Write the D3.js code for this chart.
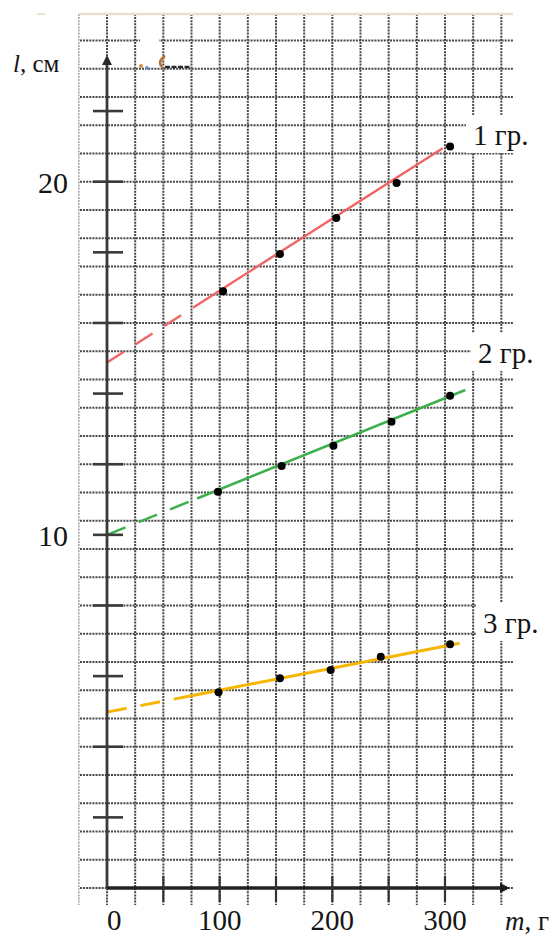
<!DOCTYPE html>
<html>
<head>
<meta charset="utf-8">
<script src="https://cdn.jsdelivr.net/npm/d3@7/dist/d3.min.js"></script>
<style>
  html, body { margin: 0; padding: 0; background: #fff; }
  svg { display: block; }
</style>
</head>
<body>
<svg id="chart" width="556" height="938"></svg>
<script>
// Spring extension l (cm) versus load mass m (g) for three groups
const groupNames = ["1 гр.", "2 гр.", "3 гр."];
const groupColors = ["#f06464", "#3cb04c", "#f5b500"];

// measured points: mass (g) and length (cm)
const massG1 = [103, 153.5, 203.5, 257, 304.5];
const lenG1  = [16.9, 17.95, 18.97, 19.96, 21.0];
const massG2 = [98.5, 155, 201, 252.5, 304.5];
const lenG2  = [11.22, 11.95, 12.52, 13.2, 13.94];
const massG3 = [99, 153.5, 198.5, 243, 304.5];
const lenG3  = [5.54, 5.94, 6.17, 6.55, 6.9];

// hand-drawn straight lines: start, end  [m, l]; dashes stop at dashUntilMass
const lineStart = [[0, 14.88], [0, 10.0], [0, 4.98]];
const lineEnd   = [[298, 20.95], [318, 14.1], [313, 6.93]];
const dashUntilMass = [78, 80, 76];

// axis ticks and labels
const xTickValues  = [50, 100, 150, 200, 250, 300];
const xLabelValues = [0, 100, 200, 300];
const yTickValues  = [2, 4, 6, 8, 10, 12, 14, 16, 18, 20, 22];
const yLabelValues = [10, 20];
const xTitle = ["m", ", г"];
const yTitle = ["l", ", см"];

// squared paper: one cell = 25 g horizontally, 0.8 cm vertically
const gridMassStep = 25;
const gridLenStep = 0.8;

const FONT = "Liberation Serif";
const INK = "#151515";

const series = groupNames.map((name, i) => ({
  name,
  color: groupColors[i],
  pts: [massG1, massG2, massG3][i].map((m, j) => ({ m, l: [lenG1, lenG2, lenG3][i][j] })),
  start: lineStart[i], end: lineEnd[i], dashTo: dashUntilMass[i]
}));

const svg = d3.select("#chart");
const x = d3.scaleLinear().domain([0, 300]).range([107, 445]);
const y = d3.scaleLinear().domain([0, 20]).range([888, 181.7]);

// ---- paper grid ----
const gridG = svg.append("g");
const vLines = d3.range(-25, 350 + 1, gridMassStep);
const hLines = d3.range(0, 30 + 1).map(k => +(k * gridLenStep).toFixed(2));
const gridTop = 14, gridBottom = 905, gridLeft = 80, gridRight = 513;

gridG.selectAll("line.v").data(vLines).join("line")
  .attr("x1", d => x(d)).attr("x2", d => x(d))
  .attr("y1", gridTop).attr("y2", gridBottom)
  .attr("stroke", (d, i) => i === 0 ? "#9a9a9a" : "#474747")
  .attr("stroke-width", (d, i) => i === 0 ? 1.4 : 2)
  .attr("stroke-dasharray", "2,1.1");

gridG.selectAll("line.h").data(hLines).join("line")
  .attr("x1", gridLeft).attr("x2", gridRight)
  .attr("y1", d => y(d)).attr("y2", d => y(d))
  .attr("stroke", "#474747").attr("stroke-width", 2)
  .attr("stroke-dasharray", "2,1.1");

// sheet edge along the top
svg.append("line").attr("x1", gridLeft - 1).attr("x2", gridRight)
  .attr("y1", gridTop).attr("y2", gridTop)
  .attr("stroke", "#e6e1cf").attr("stroke-width", 2.5);
svg.append("line").attr("x1", 37).attr("x2", 45)
  .attr("y1", gridTop).attr("y2", gridTop)
  .attr("stroke", "#e6e1cf").attr("stroke-width", 2);

// erased patch and scribble near the top
svg.append("rect").attr("x", 140).attr("y", 35).attr("width", 19).attr("height", 15).attr("fill", "#fff");
svg.append("circle").attr("cx", 141).attr("cy", 66).attr("r", 2).attr("fill", "#d98c3c");
svg.append("circle").attr("cx", 147).attr("cy", 68).attr("r", 2).attr("fill", "#6f8fd0");
svg.append("path").attr("d", "M165,56 Q157,61 162,67")
  .attr("fill", "none").attr("stroke", "#b8702e").attr("stroke-width", 2.6);
svg.append("line").attr("x1", 165).attr("x2", 190).attr("y1", 67).attr("y2", 67)
  .attr("stroke", "#2a2a2a").attr("stroke-width", 2.4).attr("stroke-dasharray", "5,1.5");

// ---- group labels (paper cleared behind them) ----
const labelPos = [[473, 145], [478, 363], [483, 633]];
const labelG = svg.append("g");
series.forEach((s, i) => {
  const t = labelG.append("text")
    .attr("x", labelPos[i][0]).attr("y", labelPos[i][1])
    .attr("font-family", FONT).attr("font-size", 29).attr("fill", INK)
    .text(s.name);
  const bb = t.node().getBBox();
  labelG.insert("rect", "text")
    .attr("x", bb.x - 7).attr("y", bb.y - 4)
    .attr("width", 556 - (bb.x - 7)).attr("height", bb.height + 6)
    .attr("fill", "#fff");
});

// ---- fitted lines: dashed near the axis, solid through the points ----
const lineG = svg.append("g");
const lineWidths = [2.4, 2.6, 3];
series.forEach((s, i) => {
  const [m0, l0] = s.start, [m1, l1] = s.end;
  const lBreak = l0 + (l1 - l0) * (s.dashTo - m0) / (m1 - m0);
  lineG.append("line")
    .attr("x1", x(m0)).attr("y1", y(l0)).attr("x2", x(s.dashTo)).attr("y2", y(lBreak))
    .attr("stroke", s.color).attr("stroke-width", lineWidths[i])
    .attr("stroke-dasharray", "20,14");
  lineG.append("line")
    .attr("x1", x(s.dashTo)).attr("y1", y(lBreak)).attr("x2", x(m1)).attr("y2", y(l1))
    .attr("stroke", s.color).attr("stroke-width", lineWidths[i]);
});

// ---- axes ----
const axisG = svg.append("g");
// vertical axis with arrow
axisG.append("line").attr("x1", x(0)).attr("x2", x(0)).attr("y1", y(0)).attr("y2", 62)
  .attr("stroke", "#3a3a3a").attr("stroke-width", 2.8);
axisG.append("path")
  .attr("d", `M${x(0)},55 L${x(0) - 5},65 L${x(0) + 5},65 Z`)
  .attr("fill", "#2a2a2a");
axisG.selectAll("line.yt").data(yTickValues).join("line")
  .attr("x1", x(0) - 14).attr("x2", x(0) + 16)
  .attr("y1", d => y(d)).attr("y2", d => y(d))
  .attr("stroke", "#3a3a3a").attr("stroke-width", 2.6);

// horizontal axis with arrow
axisG.append("line").attr("x1", x(0)).attr("x2", 502).attr("y1", y(0)).attr("y2", y(0))
  .attr("stroke", "#222").attr("stroke-width", 3.4);
axisG.append("path")
  .attr("d", `M510,${y(0)} L500,${y(0) - 5} L500,${y(0) + 5} Z`)
  .attr("fill", "#1e1e1e");
axisG.selectAll("line.xt").data(xTickValues).join("line")
  .attr("x1", d => x(d)).attr("x2", d => x(d))
  .attr("y1", y(0) - 12).attr("y2", y(0) + 14)
  .attr("stroke", "#333").attr("stroke-width", 2.2);

// tick labels
axisG.selectAll("text.xl").data(xLabelValues).join("text")
  .attr("x", d => x(d)).attr("y", 930)
  .attr("text-anchor", d => d === 0 ? "start" : "middle")
  .attr("font-family", FONT).attr("font-size", 29).attr("fill", INK)
  .text(d => d);
axisG.selectAll("text.yl").data(yLabelValues).join("text")
  .attr("x", 68).attr("y", d => y(d) + 11)
  .attr("text-anchor", "end")
  .attr("font-family", FONT).attr("font-size", 30).attr("fill", INK)
  .text(d => d);

// axis titles
const yT = axisG.append("text").attr("x", 13).attr("y", 72)
  .attr("font-family", FONT).attr("font-size", 25).attr("fill", INK);
yT.append("tspan").attr("font-style", "italic").text(yTitle[0]);
yT.append("tspan").text(yTitle[1]);
const xT = axisG.append("text").attr("x", 505).attr("y", 930)
  .attr("font-family", FONT).attr("font-size", 27).attr("fill", INK);
xT.append("tspan").attr("font-style", "italic").text(xTitle[0]);
xT.append("tspan").text(xTitle[1]);

// ---- measured points ----
const ptG = svg.append("g");
series.forEach(s => {
  ptG.selectAll(null).data(s.pts).join("circle")
    .attr("cx", d => x(d.m)).attr("cy", d => y(d.l))
    .attr("r", 4).attr("fill", "#000");
});
</script>
</body>
</html>
